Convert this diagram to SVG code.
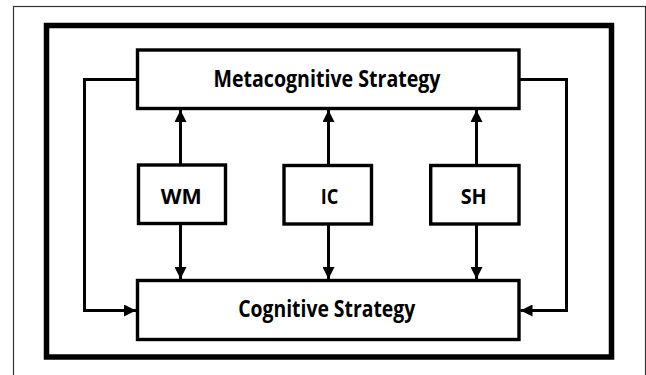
<svg xmlns="http://www.w3.org/2000/svg" width="646" height="375" viewBox="0 0 646 375">
<style>
.box{fill:#fff;stroke:#000;stroke-width:3.4}
.lbl{font-family:"Open Sans","Noto Sans","Liberation Sans",sans-serif;font-weight:700;fill:#000;text-anchor:middle}
.con{fill:none;stroke:#000;stroke-width:3}
</style>
<defs>
<marker id="ah" markerUnits="userSpaceOnUse" markerWidth="12" markerHeight="12" viewBox="0 0 10 10" refX="10" refY="5" orient="auto">
<path d="M0,0 L10,5 L0,10 Z" fill="#000"/>
</marker>
</defs>
<rect width="646" height="375" fill="#fff"/>
<rect x="13.5" y="6.5" width="632" height="380" fill="none" stroke="#333" stroke-width="1.2"/>
<rect x="46.5" y="25.5" width="565" height="331.5" fill="none" stroke="#000" stroke-width="5.5"/>
<g id="connectors">
<path class="con" d="M180.5,165 V110" marker-end="url(#ah)"/>
<path class="con" d="M328.5,165 V110" marker-end="url(#ah)"/>
<path class="con" d="M476.5,165 V110" marker-end="url(#ah)"/>
<path class="con" d="M180.5,224 V279" marker-end="url(#ah)"/>
<path class="con" d="M328.5,224 V279" marker-end="url(#ah)"/>
<path class="con" d="M476.5,224 V279" marker-end="url(#ah)"/>
<path class="con" d="M137.5,79.5 H84.5 V310.5 H136" marker-end="url(#ah)"/>
<path class="con" d="M519,79.5 H566.5 V310.5 H520.5" marker-end="url(#ah)"/>
</g>
<g id="meta">
<rect class="box" x="137.5" y="50" width="381.5" height="58.5"/>
<text class="lbl" x="327" y="87" font-size="22.5" textLength="227" lengthAdjust="spacingAndGlyphs">Metacognitive Strategy</text>
</g>
<g id="wm">
<rect class="box" x="138.5" y="165" width="87" height="58.5"/>
<text class="lbl" x="181.2" y="203.5" font-size="22" textLength="41" lengthAdjust="spacingAndGlyphs">WM</text>
</g>
<g id="ic">
<rect class="box" x="284" y="165.5" width="87.5" height="58.5"/>
<text class="lbl" x="329.5" y="203.5" font-size="22" textLength="17.6" lengthAdjust="spacingAndGlyphs">IC</text>
</g>
<g id="sh">
<rect class="box" x="430.7" y="165.5" width="88.3" height="58.5"/>
<text class="lbl" x="473.7" y="203.5" font-size="22" textLength="26" lengthAdjust="spacingAndGlyphs">SH</text>
</g>
<g id="cog">
<rect class="box" x="137.5" y="280.5" width="381.5" height="59"/>
<text class="lbl" x="326.7" y="317" font-size="22.5" textLength="177" lengthAdjust="spacingAndGlyphs">Cognitive Strategy</text>
</g>
</svg>
